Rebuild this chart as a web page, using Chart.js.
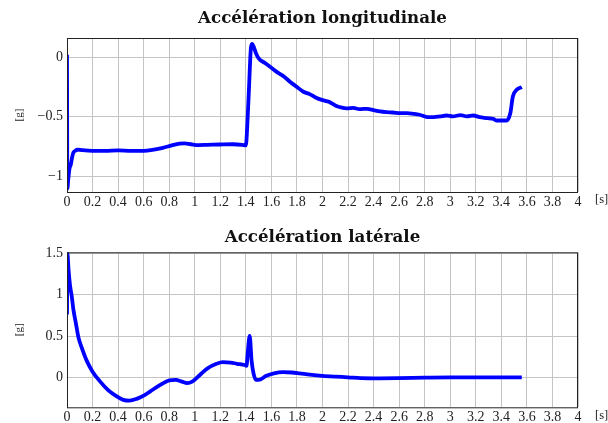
<!DOCTYPE html>
<html>
<head>
<meta charset="utf-8">
<script src="https://cdn.jsdelivr.net/npm/chart.js@4/dist/chart.umd.min.js"></script>
<style>
  html, body { margin: 0; padding: 0; background: #fff; }
  #wrap { position: relative; width: 608px; height: 423px; }
  canvas { position: absolute; left: 0; }
  #top { top: 0; }
  #bottom { top: 212px; }
</style>
</head>
<body>
<div id="wrap">
  <canvas id="top" width="608" height="212"></canvas>
  <canvas id="bottom" width="608" height="211"></canvas>
</div>
<script>
// time axis ticks [s]
const timeTicks = [0, 0.2, 0.4, 0.6, 0.8, 1, 1.2, 1.4, 1.6, 1.8, 2, 2.2, 2.4, 2.6, 2.8, 3, 3.2, 3.4, 3.6, 3.8, 4];

// longitudinal acceleration [g]
const longT = [0, 0.003, 0.01, 0.02, 0.03, 0.04, 0.05, 0.065, 0.08, 0.12, 0.2, 0.3, 0.4, 0.5, 0.6,
  0.68, 0.75, 0.82, 0.88, 0.92, 0.97, 1.03, 1.1, 1.2, 1.3, 1.37, 1.4, 1.41, 1.425, 1.44, 1.45,
  1.46, 1.48, 1.5, 1.55, 1.6, 1.65, 1.7, 1.75, 1.8, 1.85, 1.9, 1.95, 2.0, 2.05, 2.1, 2.14, 2.19,
  2.24, 2.29, 2.35, 2.4, 2.45, 2.5, 2.55, 2.61, 2.66, 2.71, 2.76, 2.82, 2.87, 2.92, 2.97, 3.02,
  3.08, 3.13, 3.18, 3.23, 3.29, 3.34, 3.36, 3.42, 3.44, 3.47, 3.49, 3.52, 3.56];
const longG = [0.02, -1.1, -1.02, -0.93, -0.9, -0.84, -0.8, -0.785, -0.775, -0.78, -0.785, -0.785, -0.782, -0.785, -0.785,
  -0.775, -0.76, -0.74, -0.725, -0.722, -0.73, -0.737, -0.735, -0.732, -0.73, -0.735, -0.74, -0.6, -0.25, 0.08, 0.11,
  0.09, 0.03, -0.01, -0.05, -0.09, -0.13, -0.165, -0.21, -0.25, -0.29, -0.31, -0.34, -0.36, -0.375, -0.405, -0.42, -0.43,
  -0.425, -0.436, -0.433, -0.444, -0.455, -0.461, -0.464, -0.47, -0.47, -0.475, -0.483, -0.503, -0.503, -0.497, -0.489, -0.497,
  -0.486, -0.497, -0.489, -0.503, -0.511, -0.519, -0.531, -0.531, -0.531, -0.47, -0.33, -0.274, -0.251];

// lateral acceleration [g]
const latT = [0, 0.003, 0.012, 0.023, 0.037, 0.05, 0.07, 0.09, 0.12, 0.155, 0.2, 0.26, 0.32, 0.38, 0.44,
  0.49, 0.55, 0.6, 0.65, 0.73, 0.8, 0.85, 0.9, 0.94, 0.98, 1.04, 1.1, 1.17, 1.22, 1.28, 1.33, 1.39,
  1.405, 1.415, 1.43, 1.445, 1.46, 1.48, 1.5, 1.56, 1.62, 1.69, 1.76, 1.82, 1.9, 2.0, 2.1, 2.2,
  2.3, 2.45, 2.6, 2.8, 3.0, 3.3, 3.56];
const latG = [0.76, 1.5, 1.3, 1.12, 0.98, 0.82, 0.65, 0.48, 0.34, 0.2, 0.07, -0.05, -0.15, -0.22, -0.27,
  -0.28, -0.255, -0.22, -0.17, -0.09, -0.035, -0.03, -0.05, -0.068, -0.05, 0.03, 0.11, 0.165, 0.185, 0.18, 0.165, 0.15,
  0.14, 0.3, 0.5, 0.2, 0.05, -0.03, -0.03, 0.02, 0.05, 0.065, 0.06, 0.05, 0.035, 0.02, 0.01, 0.002,
  -0.008, -0.01, -0.008, -0.003, 0, 0, 0];

const serif = '"Liberation Serif", "Times New Roman", serif';
const titleSerif = '"DejaVu Serif", "Liberation Serif", serif';

function fmt(v) {
  const r = Math.round(v * 10) / 10;
  return r < 0 ? '\u2212' + Math.abs(r) : String(r);
}

// box around the plot, title centred over the plot, [s] unit next to the x labels
const framePlugin = {
  id: 'frame',
  afterDraw(chart, args, opts) {
    const a = chart.chartArea;
    const ctx = chart.ctx;
    ctx.save();
    ctx.strokeStyle = '#222';
    ctx.lineWidth = 1;
    ctx.strokeRect(a.left + 0.5, a.top + 0.5, a.right - a.left - 1, a.bottom - a.top);
    ctx.fillStyle = '#222';
    ctx.font = '12.5px ' + serif;
    ctx.textAlign = 'left';
    ctx.textBaseline = 'middle';
    ctx.fillText('[s]', a.right + 17, a.bottom + 8);
    ctx.fillStyle = '#111';
    ctx.font = 'bold 16.7px ' + titleSerif;
    ctx.textAlign = 'center';
    ctx.textBaseline = 'alphabetic';
    ctx.fillText(opts.text, (a.left + a.right) / 2, opts.baseline);
    ctx.restore();
  }
};

function makeChart(id, title, xs, ys, yMin, yMax, topPad, titleBase, xAxisH) {
  const points = xs.map((x, i) => ({ x: x, y: ys[i] }));
  return new Chart(document.getElementById(id), {
    type: 'line',
    data: {
      datasets: [{
        data: points,
        borderColor: '#0000ff',
        borderWidth: 3.8,
        pointRadius: 0,
        fill: false,
        cubicInterpolationMode: 'monotone'
      }]
    },
    options: {
      responsive: false,
      animation: false,
      layout: { padding: { left: 0, right: 30, top: topPad, bottom: 0 } },
      plugins: {
        legend: { display: false },
        tooltip: { enabled: false },
        frame: { text: title, baseline: titleBase }
      },
      scales: {
        x: {
          type: 'linear',
          min: 0,
          max: 4,
          afterBuildTicks: (s) => { s.ticks = timeTicks.map(v => ({ value: v })); },
          afterFit: (s) => { s.height = xAxisH; },
          ticks: {
            callback: fmt,
            color: '#222',
            font: { family: serif, size: 14 },
            padding: 2,
            maxRotation: 0,
            autoSkip: false
          },
          grid: { color: '#c4c4c4', lineWidth: 1, drawTicks: false },
          border: { display: false }
        },
        y: {
          min: yMin,
          max: yMax,
          afterFit: (s) => { s.width = 67; },
          ticks: {
            stepSize: 0.5,
            includeBounds: false,
            callback: fmt,
            color: '#222',
            font: { family: serif, size: 14 },
            padding: 4
          },
          grid: { color: '#c4c4c4', lineWidth: 1, drawTicks: false },
          border: { display: false },
          title: {
            display: true,
            text: '[g]',
            color: '#222',
            font: { family: serif, size: 11 },
            padding: { top: 13, bottom: 0 }
          }
        }
      }
    },
    plugins: [framePlugin]
  });
}

makeChart('top', 'Accélération longitudinale', longT, longG, -1.13, 0.16, 38, 23, 20);
makeChart('bottom', 'Accélération latérale', latT, latG, -0.36, 1.51, 40.3, 29.7, 15.7);
</script>
</body>
</html>
